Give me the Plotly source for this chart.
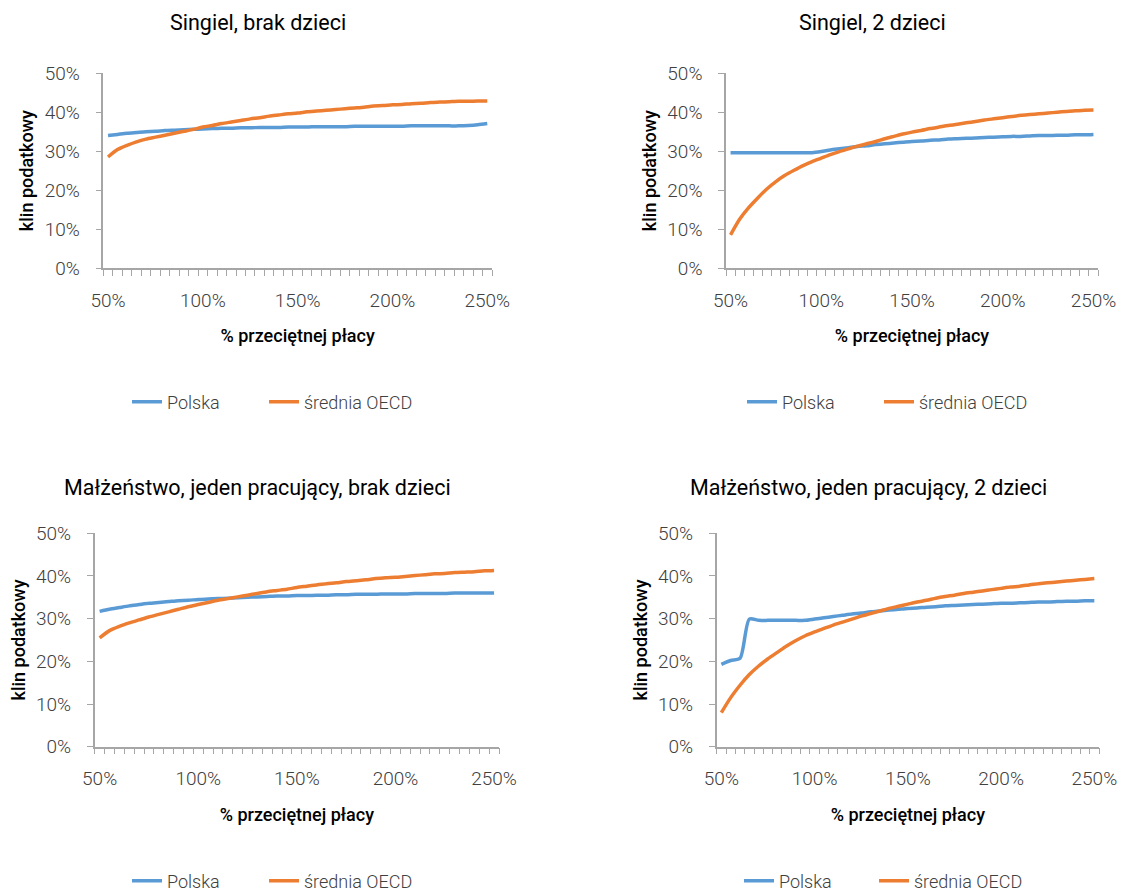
import plotly.graph_objects as go

# categories: % of average wage
wage_pct = list(range(50, 255, 5))  # 50..250

series_names = ["Polska", "średnia OECD"]
colors = ["#5B9BD5", "#ED7D31"]

titles = [
    "Singiel, brak dzieci",
    "Singiel, 2 dzieci",
    "Małżeństwo, jeden pracujący, brak dzieci",
    "Małżeństwo, jeden pracujący, 2 dzieci",
]

# Panel 1: Singiel, brak dzieci
pl_single_nokids = [34.0, 34.3, 34.6, 34.8, 35.0, 35.1, 35.3, 35.4, 35.5, 35.6,
                    35.7, 35.8, 35.9, 35.9, 36.0, 36.0, 36.1, 36.1, 36.1, 36.2,
                    36.2, 36.2, 36.3, 36.3, 36.3, 36.3, 36.4, 36.4, 36.4, 36.4,
                    36.4, 36.4, 36.5, 36.5, 36.5, 36.5, 36.5, 36.5, 36.6, 36.8, 37.1]
oecd_single_nokids = [28.5, 30.4, 31.5, 32.4, 33.1, 33.6, 34.1, 34.6, 35.1, 35.6,
                      36.2, 36.6, 37.1, 37.5, 37.9, 38.3, 38.6, 39.0, 39.3, 39.6,
                      39.8, 40.1, 40.3, 40.5, 40.7, 40.9, 41.1, 41.3, 41.6, 41.7,
                      41.9, 42.0, 42.2, 42.3, 42.5, 42.6, 42.7, 42.8, 42.8, 42.9, 42.9]

# Panel 2: Singiel, 2 dzieci
pl_single_2kids = [29.6, 29.6, 29.6, 29.6, 29.6, 29.6, 29.6, 29.6, 29.6, 29.6,
                   29.9, 30.3, 30.6, 30.9, 31.2, 31.4, 31.7, 31.9, 32.1, 32.3,
                   32.5, 32.6, 32.8, 32.9, 33.1, 33.2, 33.3, 33.4, 33.5, 33.6,
                   33.7, 33.8, 33.8, 33.9, 34.0, 34.0, 34.1, 34.1, 34.2, 34.2, 34.3]
oecd_single_2kids = [8.5, 12.5, 15.5, 18.0, 20.3, 22.2, 23.8, 25.1, 26.3, 27.3,
                     28.2, 29.1, 29.9, 30.6, 31.3, 31.9, 32.5, 33.2, 33.8, 34.4,
                     34.9, 35.3, 35.8, 36.2, 36.6, 36.9, 37.3, 37.6, 38.0, 38.3,
                     38.6, 38.9, 39.2, 39.4, 39.6, 39.8, 40.0, 40.2, 40.4, 40.5, 40.6]

# Panel 3: Małżeństwo, jeden pracujący, brak dzieci
pl_married_nokids = [31.7, 32.2, 32.6, 33.0, 33.3, 33.6, 33.8, 34.0, 34.2, 34.3,
                     34.5, 34.6, 34.7, 34.8, 34.9, 35.0, 35.1, 35.2, 35.3, 35.3,
                     35.4, 35.4, 35.5, 35.5, 35.6, 35.6, 35.7, 35.7, 35.7, 35.8,
                     35.8, 35.8, 35.9, 35.9, 35.9, 35.9, 36.0, 36.0, 36.0, 36.0, 36.0]
oecd_married_nokids = [25.5, 27.2, 28.2, 29.0, 29.7, 30.4, 31.0, 31.6, 32.2, 32.8,
                       33.3, 33.8, 34.3, 34.7, 35.1, 35.5, 35.9, 36.3, 36.6, 36.9,
                       37.3, 37.6, 37.9, 38.2, 38.4, 38.7, 38.9, 39.1, 39.4, 39.6,
                       39.7, 39.9, 40.1, 40.3, 40.5, 40.6, 40.8, 40.9, 41.0, 41.2, 41.3]

# Panel 4: Małżeństwo, jeden pracujący, 2 dzieci
pl_married_2kids = [19.3, 20.2, 20.7, 29.9, 29.6, 29.6, 29.6, 29.6, 29.6, 29.6,
                    29.9, 30.2, 30.5, 30.8, 31.1, 31.3, 31.6, 31.8, 32.0, 32.2,
                    32.4, 32.5, 32.7, 32.8, 33.0, 33.1, 33.2, 33.3, 33.4, 33.5,
                    33.6, 33.6, 33.7, 33.8, 33.9, 33.9, 34.0, 34.1, 34.1, 34.2, 34.2]
oecd_married_2kids = [8.0, 11.5, 14.4, 16.9, 18.9, 20.6, 22.1, 23.6, 24.9, 26.0,
                      26.9, 27.7, 28.5, 29.2, 29.9, 30.6, 31.2, 31.8, 32.4, 32.9,
                      33.4, 33.9, 34.3, 34.8, 35.2, 35.5, 35.9, 36.2, 36.5, 36.8,
                      37.1, 37.4, 37.6, 37.9, 38.2, 38.4, 38.6, 38.8, 39.0, 39.2, 39.4]

panels = [
    (pl_single_nokids, oecd_single_nokids),
    (pl_single_2kids, oecd_single_2kids),
    (pl_married_nokids, oecd_married_nokids),
    (pl_married_2kids, oecd_married_2kids),
]

x_tick_vals = [50, 100, 150, 200, 250]
x_tick_text = ["50%", "100%", "150%", "200%", "250%"]
y_tick_vals = [0, 0.1, 0.2, 0.3, 0.4, 0.5]

# the page body has an 8px margin; the figure is sized to fill the rest of the window
OFF = 8
W, H = 1131 - OFF, 893 - OFF


def px_x(px):
    return (px - OFF) / W


def px_y(py):
    return 1 - (py - OFF) / H


# plot-area pixel boxes in window coordinates (left, right, top, bottom)
boxes = [
    (103.3, 492.0, 73.3, 268.0),
    (726.0, 1098.0, 73.3, 268.0),
    (94.7, 499.0, 533.3, 746.7),
    (716.7, 1099.0, 533.3, 746.7),
]
title_pos = [(258, 23), (872, 23), (257, 487), (868, 487)]
# legend text start x for (Polska, OECD) and legend center y
legend_text_x = [(168, 305), (783, 920), (168, 305), (780, 915)]
legend_y = [402, 402, 881, 881]

AX_COLOR = "#A6A6A6"
TICK_FONT = dict(family="Roboto", size=19, color="#404040", weight=300)
TITLE_FONT = dict(family="Roboto", size=18, color="#000000", weight=500)
LEGEND_FONT = dict(family="Roboto", size=18, color="#404040", weight=300)

fig = go.Figure()
layout = dict(
    width=W, height=H,
    margin=dict(l=0, r=0, t=0, b=0, autoexpand=False),
    paper_bgcolor="white", plot_bgcolor="white",
    annotations=[],
)

minor_vals = [47.5 + 5 * k for k in range(42)]

leg_idx = 0
for p, (pl_vals, oecd_vals) in enumerate(panels):
    sfx = "" if p == 0 else str(p + 1)
    xa, ya = "x" + sfx, "y" + sfx
    for s, (name, vals, col) in enumerate(zip(series_names, (pl_vals, oecd_vals), colors)):
        leg_idx += 1
        lg = "legend" if leg_idx == 1 else "legend" + str(leg_idx)
        fig.add_trace(go.Scatter(
            x=wage_pct, y=[v / 100 for v in vals], name=name, mode="lines",
            line=dict(color=col, width=3.5, shape="spline", smoothing=0.7),
            xaxis=xa, yaxis=ya, legend=lg, showlegend=True,
        ))
        tx = legend_text_x[p][s] - 41
        layout[lg] = dict(
            orientation="h", xanchor="left", yanchor="middle",
            x=px_x(tx), y=px_y(legend_y[p]), font=LEGEND_FONT,
            bgcolor="rgba(0,0,0,0)", borderwidth=0,
        )
    l, r, t, b = boxes[p]
    layout["xaxis" + sfx] = dict(
        domain=[px_x(l), px_x(r)], anchor=ya, range=[47.5, 252.5], automargin=False,
        tickmode="array", tickvals=x_tick_vals, ticktext=x_tick_text,
        ticks="", showgrid=False, zeroline=False,
        showline=True, linecolor=AX_COLOR, linewidth=1.5,
        tickfont=TICK_FONT, ticklabelstandoff=14,
        minor=dict(tickmode="array", tickvals=minor_vals, ticks="outside",
                   ticklen=6, tickwidth=1.3, tickcolor=AX_COLOR, showgrid=False),
        title=dict(text="% przeciętnej płacy", font=TITLE_FONT, standoff=19),
        fixedrange=True,
    )
    layout["yaxis" + sfx] = dict(
        domain=[px_y(b), px_y(t)], anchor=xa, range=[0, 0.5], automargin=False,
        tickmode="array", tickvals=y_tick_vals, tickformat=".0%",
        ticks="outside", ticklen=6, tickwidth=1.3, tickcolor=AX_COLOR,
        showgrid=False, zeroline=False,
        showline=True, linecolor=AX_COLOR, linewidth=1.5,
        tickfont=TICK_FONT, ticklabelstandoff=12,
        title=dict(text="klin podatkowy", font=TITLE_FONT, standoff=6),
        fixedrange=True,
    )
    tx, ty = title_pos[p]
    layout["annotations"].append(dict(
        text=titles[p], x=px_x(tx), y=px_y(ty), xref="paper", yref="paper",
        xanchor="center", yanchor="middle", showarrow=False,
        font=dict(family="Roboto", size=21.5, color="#000000"),
    ))

fig.update_layout(**layout)
fig.write_html("out.html")
